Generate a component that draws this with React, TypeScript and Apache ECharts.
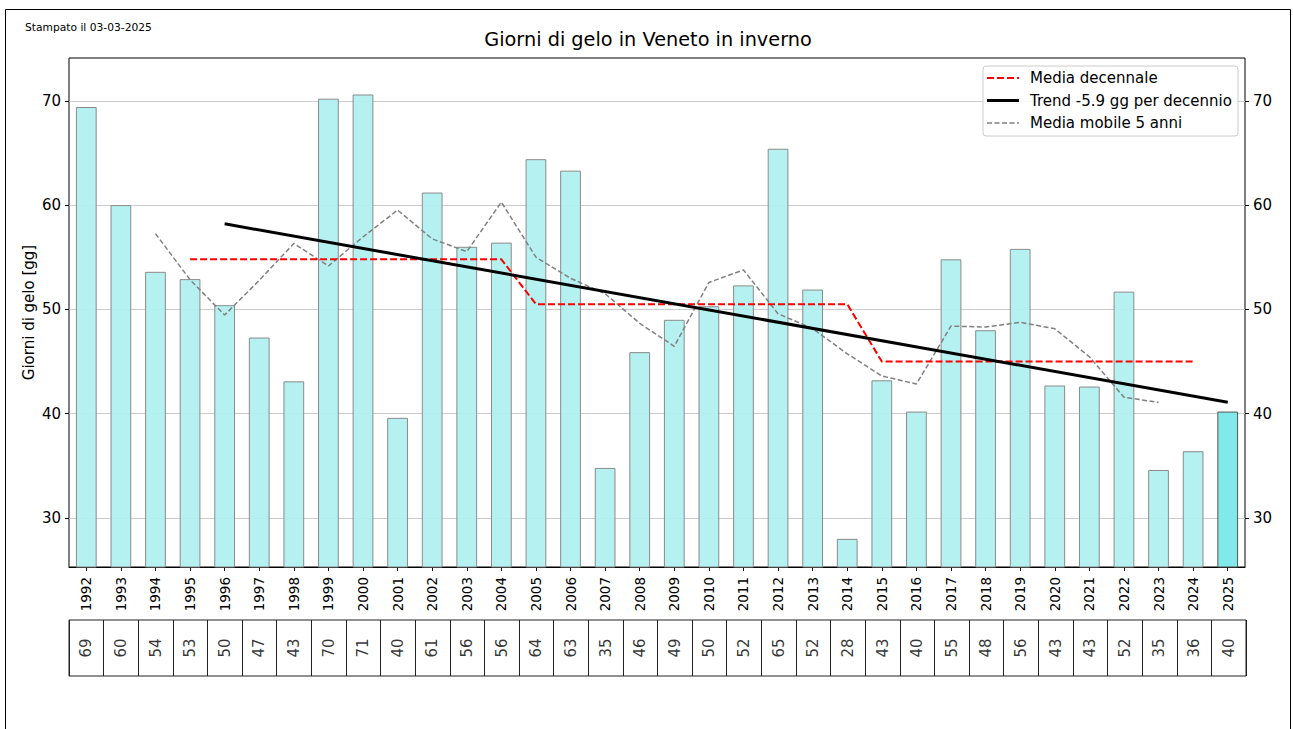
import React, { useEffect, useRef } from "react";
import * as echarts from "echarts";

const years = [
  "1992", "1993", "1994", "1995", "1996", "1997", "1998", "1999", "2000", "2001",
  "2002", "2003", "2004", "2005", "2006", "2007", "2008", "2009", "2010", "2011",
  "2012", "2013", "2014", "2015", "2016", "2017", "2018", "2019", "2020", "2021",
  "2022", "2023", "2024", "2025",
];

const frostDays = [
  69.4, 60.0, 53.6, 52.9, 50.4, 47.3, 43.1, 70.2, 70.6, 39.6,
  61.2, 56.0, 56.4, 64.4, 63.3, 34.8, 45.9, 49.0, 50.3, 52.3,
  65.4, 51.9, 28.0, 43.2, 40.2, 54.8, 48.0, 55.8, 42.7, 42.6,
  51.7, 34.6, 36.4, 40.2,
];

const decadeMean = [
  null, null, null, 54.8, 54.8, 54.8, 54.8, 54.8, 54.8, 54.8,
  54.8, 54.8, 54.8, 50.5, 50.5, 50.5, 50.5, 50.5, 50.5, 50.5,
  50.5, 50.5, 50.5, 45.0, 45.0, 45.0, 45.0, 45.0, 45.0, 45.0,
  45.0, 45.0, 45.0, null,
];

const trendLine = [
  null, null, null, null, 58.2, null, null, null, null, null,
  null, null, null, null, null, null, null, null, null, null,
  null, null, null, null, null, null, null, null, null, null,
  null, null, null, 41.1,
];

const movingAvg = [
  null, null, 57.26, 52.84, 49.46, 52.78, 56.32, 54.16, 56.94, 59.52,
  56.76, 55.54, 60.28, 55.0, 52.98, 51.5, 48.66, 46.46, 52.58, 53.78,
  49.58, 48.16, 45.74, 43.62, 42.84, 48.4, 48.3, 48.76, 48.14, 45.46,
  41.58, 41.08, null, null,
];

const yTicks = [30, 40, 50, 60, 70];

const legendEntries = [
  { name: "Media decennale", color: "#ff0000", width: 2, dash: [7, 3] },
  { name: "Trend -5.9 gg per decennio", color: "#000000", width: 3, dash: null },
  { name: "Media mobile 5 anni", color: "#808080", width: 1.5, dash: [5, 2.5] },
];

const FONT = "DejaVu Sans";

export default function App() {
  const ref = useRef<HTMLDivElement>(null);

  useEffect(() => {
    if (!ref.current) return;
    const chart = echarts.init(ref.current, undefined, { renderer: "svg" });
    const lastIdx = frostDays.length - 1;

    const legendGraphics: any[] = [
      {
        type: "rect",
        shape: { x: 983, y: 66, width: 255, height: 70, r: 3 },
        style: { fill: "rgba(255,255,255,0.85)", stroke: "#cccccc", lineWidth: 1 },
        z: 100,
      },
    ];
    const rowY = [78, 100.5, 123];
    legendEntries.forEach((e, i) => {
      legendGraphics.push({
        type: "line",
        shape: { x1: 987, y1: rowY[i], x2: 1019, y2: rowY[i] },
        style: { stroke: e.color, lineWidth: e.width, lineDash: e.dash || undefined },
        z: 101,
      });
      legendGraphics.push({
        type: "text",
        x: 1030,
        y: rowY[i],
        style: {
          text: e.name,
          font: `15px '${FONT}'`,
          fill: "#000",
          verticalAlign: "middle",
          align: "left",
        },
        z: 101,
      });
    });

    const axisCommon = {
      min: 25.3,
      max: 74.1,
      axisLine: { show: false },
      axisTick: { show: true, length: 4, lineStyle: { color: "#000" }, customValues: yTicks },
      axisLabel: {
        fontSize: 15,
        color: "#000",
        fontFamily: FONT,
        margin: 8,
        customValues: yTicks,
      },
    };

    chart.setOption({
      animation: false,
      backgroundColor: "#ffffff",
      textStyle: { fontFamily: FONT },
      graphic: [
        {
          type: "rect",
          shape: { x: 5.5, y: 9.5, width: 1285, height: 740 },
          style: { fill: "none", stroke: "#000", lineWidth: 1 },
          silent: true,
        },
        {
          type: "text",
          x: 25,
          y: 27,
          style: {
            text: "Stampato il 03-03-2025",
            font: `10.7px '${FONT}'`,
            fill: "#000",
            verticalAlign: "middle",
          },
        },
        {
          type: "text",
          x: 648,
          y: 39,
          style: {
            text: "Giorni di gelo in Veneto in inverno",
            font: `19.3px '${FONT}'`,
            fill: "#000",
            align: "center",
            verticalAlign: "middle",
          },
        },
        ...legendGraphics,
      ],
      grid: [
        {
          left: 69,
          top: 58,
          width: 1176,
          height: 509,
          show: true,
          borderColor: "#000",
          borderWidth: 1,
          containLabel: false,
        },
        {
          left: 69,
          top: 620,
          width: 1177,
          height: 56,
          show: true,
          borderColor: "#222",
          borderWidth: 1,
          containLabel: false,
        },
      ],
      xAxis: [
        {
          type: "category",
          gridIndex: 0,
          data: years,
          boundaryGap: true,
          axisLine: { show: true, lineStyle: { color: "#000" } },
          axisTick: { show: true, alignWithLabel: true, length: 4, lineStyle: { color: "#000" } },
          axisLabel: {
            rotate: 90,
            fontSize: 13.5,
            color: "#000",
            fontFamily: FONT,
            margin: 10,
            interval: 0,
          },
          splitLine: { show: false },
        },
        {
          type: "category",
          gridIndex: 1,
          data: years,
          boundaryGap: true,
          axisLine: { show: false },
          axisTick: { show: false },
          axisLabel: { show: false },
          splitLine: { show: true, interval: 0, lineStyle: { color: "#222", width: 1 } },
        },
      ],
      yAxis: [
        {
          type: "value",
          gridIndex: 0,
          position: "left",
          ...axisCommon,
          name: "Giorni di gelo [gg]",
          nameLocation: "middle",
          nameGap: 33,
          nameMoveOverlap: false,
          nameTextStyle: { fontSize: 15, color: "#000", fontFamily: FONT },
          splitLine: { show: true, lineStyle: { color: "#cccccc", width: 1 } },
        },
        {
          type: "value",
          gridIndex: 0,
          position: "right",
          ...axisCommon,
          splitLine: { show: false },
        },
        {
          type: "value",
          gridIndex: 1,
          min: 0,
          max: 1,
          show: false,
        },
      ],
      series: [
        {
          type: "bar",
          name: "Giorni di gelo",
          xAxisIndex: 0,
          yAxisIndex: 0,
          barWidth: "60%",
          data: frostDays.map((v, i) => ({
            value: v,
            itemStyle:
              i === lastIdx
                ? { color: "rgba(125,232,232,0.97)", borderColor: "#555", borderWidth: 1 }
                : undefined,
          })),
          itemStyle: {
            color: "rgba(175,240,240,0.93)",
            borderColor: "#8a8a8a",
            borderWidth: 1,
          },
          z: 2,
        },
        {
          type: "line",
          name: "Media decennale",
          xAxisIndex: 0,
          yAxisIndex: 0,
          data: decadeMean,
          symbol: "none",
          lineStyle: { color: "#ff0000", width: 2, type: [7, 3] },
          z: 4,
        },
        {
          type: "line",
          name: "Trend -5.9 gg per decennio",
          xAxisIndex: 0,
          yAxisIndex: 0,
          data: trendLine,
          connectNulls: true,
          symbol: "none",
          lineStyle: { color: "#000000", width: 3 },
          z: 5,
        },
        {
          type: "line",
          name: "Media mobile 5 anni",
          xAxisIndex: 0,
          yAxisIndex: 0,
          data: movingAvg,
          symbol: "none",
          lineStyle: { color: "#808080", width: 1.5, type: [5, 2.5] },
          z: 3,
        },
        {
          type: "scatter",
          name: "Tabella",
          xAxisIndex: 1,
          yAxisIndex: 2,
          symbolSize: 1,
          itemStyle: { color: "transparent" },
          data: frostDays.map((v, i) => [i, 0.5, v]),
          label: {
            show: true,
            position: "inside",
            rotate: 90,
            fontSize: 15,
            color: "#000",
            fontFamily: FONT,
            formatter: (p: any) => String(Math.round(p.value[2])),
          },
          silent: true,
        },
      ],
    });

    return () => chart.dispose();
  }, []);

  return (
    <div
      ref={ref}
      style={{ position: "fixed", left: 0, top: 0, width: 1293, height: 729, background: "#fff" }}
    />
  );
}
